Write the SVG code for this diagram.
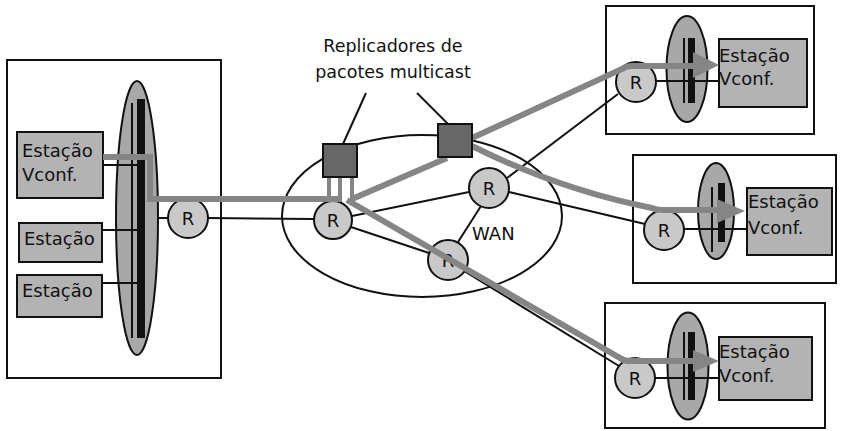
<svg xmlns="http://www.w3.org/2000/svg" width="841" height="431" viewBox="0 0 841 431">
<style>
.box{fill:#fff;stroke:#111;stroke-width:2}
.lan{fill:#a8a8a8;stroke:#111;stroke-width:2}
.st{fill:#b3b3b3;stroke:#111;stroke-width:2}
.rt{fill:#c9c9c9;stroke:#111;stroke-width:2}
.rep{fill:#676767;stroke:#111;stroke-width:2}
.bl{stroke:#111;stroke-width:2;fill:none}
.gr{stroke:#858585;stroke-width:6;fill:none}
.gs{stroke:#858585;stroke-width:4;fill:none}
.ah{fill:#858585}
.bar{fill:#111}
text{font-family:"DejaVu Sans","Liberation Sans",sans-serif;fill:#111}
.t{font-size:18px}
.c{font-size:17.5px;text-anchor:middle}
.r{font-size:18px;text-anchor:middle}
</style>
<rect width="841" height="431" fill="#fff"/>

<g id="left-site">
<rect class="box" x="7" y="60" width="214" height="318"/>
<ellipse class="lan" cx="137" cy="218" rx="21" ry="137"/>
<rect class="bar" x="137" y="99" width="8" height="239"/>
<line class="bl" x1="132" y1="103" x2="132" y2="338"/>
</g>

<g id="wan">
<ellipse cx="422" cy="216" rx="140" ry="81" fill="none" stroke="#111" stroke-width="2"/>
<text class="t" x="472" y="240">WAN</text>
</g>

<g id="site-top">
<rect class="box" x="606" y="6" width="208" height="128"/>
<ellipse class="lan" cx="687" cy="69" rx="20.5" ry="53"/>
<line class="bl" x1="684" y1="38" x2="684" y2="103"/>
<rect class="bar" x="688" y="38" width="7" height="65"/>
</g>

<g id="site-mid">
<rect class="box" x="633" y="155" width="203" height="128"/>
<ellipse class="lan" cx="716" cy="211" rx="18" ry="48"/>
<line class="bl" x1="712" y1="187" x2="712" y2="252"/>
<rect class="bar" x="718" y="183" width="7" height="59"/>
</g>

<g id="site-bottom">
<rect class="box" x="605" y="303" width="220" height="125"/>
<ellipse class="lan" cx="688" cy="366" rx="20.5" ry="53.5"/>
<line class="bl" x1="684" y1="332" x2="684" y2="400"/>
<rect class="bar" x="688" y="332" width="7" height="68"/>
</g>

<g id="connectors">
<line class="bl" x1="103" y1="165" x2="137" y2="165"/>
<line class="bl" x1="102" y1="230" x2="137" y2="230"/>
<line class="bl" x1="102" y1="283" x2="137" y2="283"/>
<line class="bl" x1="158" y1="218" x2="168" y2="218"/>
<line class="bl" x1="208" y1="218" x2="314" y2="219"/>
<line class="bl" x1="352" y1="216" x2="469" y2="192"/>
<line class="bl" x1="351" y1="227" x2="429" y2="253"/>
<line class="bl" x1="481" y1="206" x2="458" y2="242"/>
<line class="bl" x1="507" y1="178" x2="618" y2="94"/>
<line class="bl" x1="509" y1="192" x2="645" y2="224"/>
<line class="bl" x1="464" y1="271" x2="619" y2="366"/>
<line class="bl" x1="656" y1="81" x2="719" y2="81"/>
<line class="bl" x1="684" y1="229" x2="747" y2="229"/>
<line class="bl" x1="655" y1="378" x2="719" y2="378"/>
<line class="bl" x1="366" y1="93" x2="343" y2="144"/>
<line class="bl" x1="417" y1="93" x2="448" y2="124"/>
</g>

<g id="routers">
<g id="r-left"><circle class="rt" cx="188" cy="218" r="20"/><text class="r" x="188" y="224.5">R</text></g>
<g id="r-wan-main"><circle class="rt" cx="333" cy="220" r="19"/><text class="r" x="333" y="226.5">R</text></g>
<g id="r-wan-upper"><circle class="rt" cx="489" cy="188" r="20"/><text class="r" x="489" y="194.5">R</text></g>
<g id="r-wan-lower"><circle class="rt" cx="448" cy="260" r="20"/><text class="r" x="448" y="266.5">R</text></g>
<g id="r-top"><circle class="rt" cx="636" cy="82" r="20"/><text class="r" x="636" y="88.5">R</text></g>
<g id="r-mid"><circle class="rt" cx="664" cy="230" r="20"/><text class="r" x="664" y="236.5">R</text></g>
<g id="r-bottom"><circle class="rt" cx="635" cy="378" r="20"/><text class="r" x="635" y="384.5">R</text></g>
</g>

<g id="stations">
<g id="st-left-1"><rect class="st" x="17" y="132" width="86" height="66"/><text class="t" x="22" y="157">Estação</text><text class="t" x="22" y="181">Vconf.</text></g>
<g id="st-left-2"><rect class="st" x="19" y="223" width="83" height="39"/><text class="t" x="24" y="245">Estação</text></g>
<g id="st-left-3"><rect class="st" x="17" y="275" width="85" height="42"/><text class="t" x="22" y="297">Estação</text></g>
<g id="st-top"><rect class="st" x="719" y="39" width="88" height="68"/><text class="t" x="719" y="62">Estação</text><text class="t" x="719" y="85">Vconf.</text></g>
<g id="st-mid"><rect class="st" x="747" y="188" width="85" height="67"/><text class="t" x="748" y="208">Estação</text><text class="t" x="748" y="234">Vconf.</text></g>
<g id="st-bottom"><rect class="st" x="719" y="337" width="93" height="63"/><text class="t" x="719" y="358">Estação</text><text class="t" x="719" y="382">Vconf.</text></g>
</g>

<g id="multicast-flow">
<path class="gr" d="M103,157 H150 V199 H342"/>
<line class="gs" x1="329" y1="177" x2="329" y2="200"/>
<line class="gs" x1="340" y1="177" x2="340" y2="200"/>
<line class="gs" x1="352" y1="177" x2="352" y2="200"/>
<path class="gr" d="M352,199 L447,158"/>
<path class="gr" d="M472,138 L622,69 Q626,66 632,66 H694"/>
<polygon class="ah" points="693,52 719,65 693,78"/>
<path class="gr" d="M472,146 Q560,190 652,208 Q656,210 662,210 H718"/>
<polygon class="ah" points="717,199 745,211 717,223"/>
<path class="gr" d="M347,200 L620,358 Q624,361 630,361 H694"/>
<polygon class="ah" points="693,350 719,361 693,372"/>
</g>

<g id="replicators">
<rect class="rep" x="323" y="144" width="34" height="33"/>
<rect class="rep" x="438" y="124" width="34" height="33"/>
<text class="c" x="393" y="52">Replicadores de</text>
<text class="c" x="393" y="78">pacotes multicast</text>
</g>
</svg>
